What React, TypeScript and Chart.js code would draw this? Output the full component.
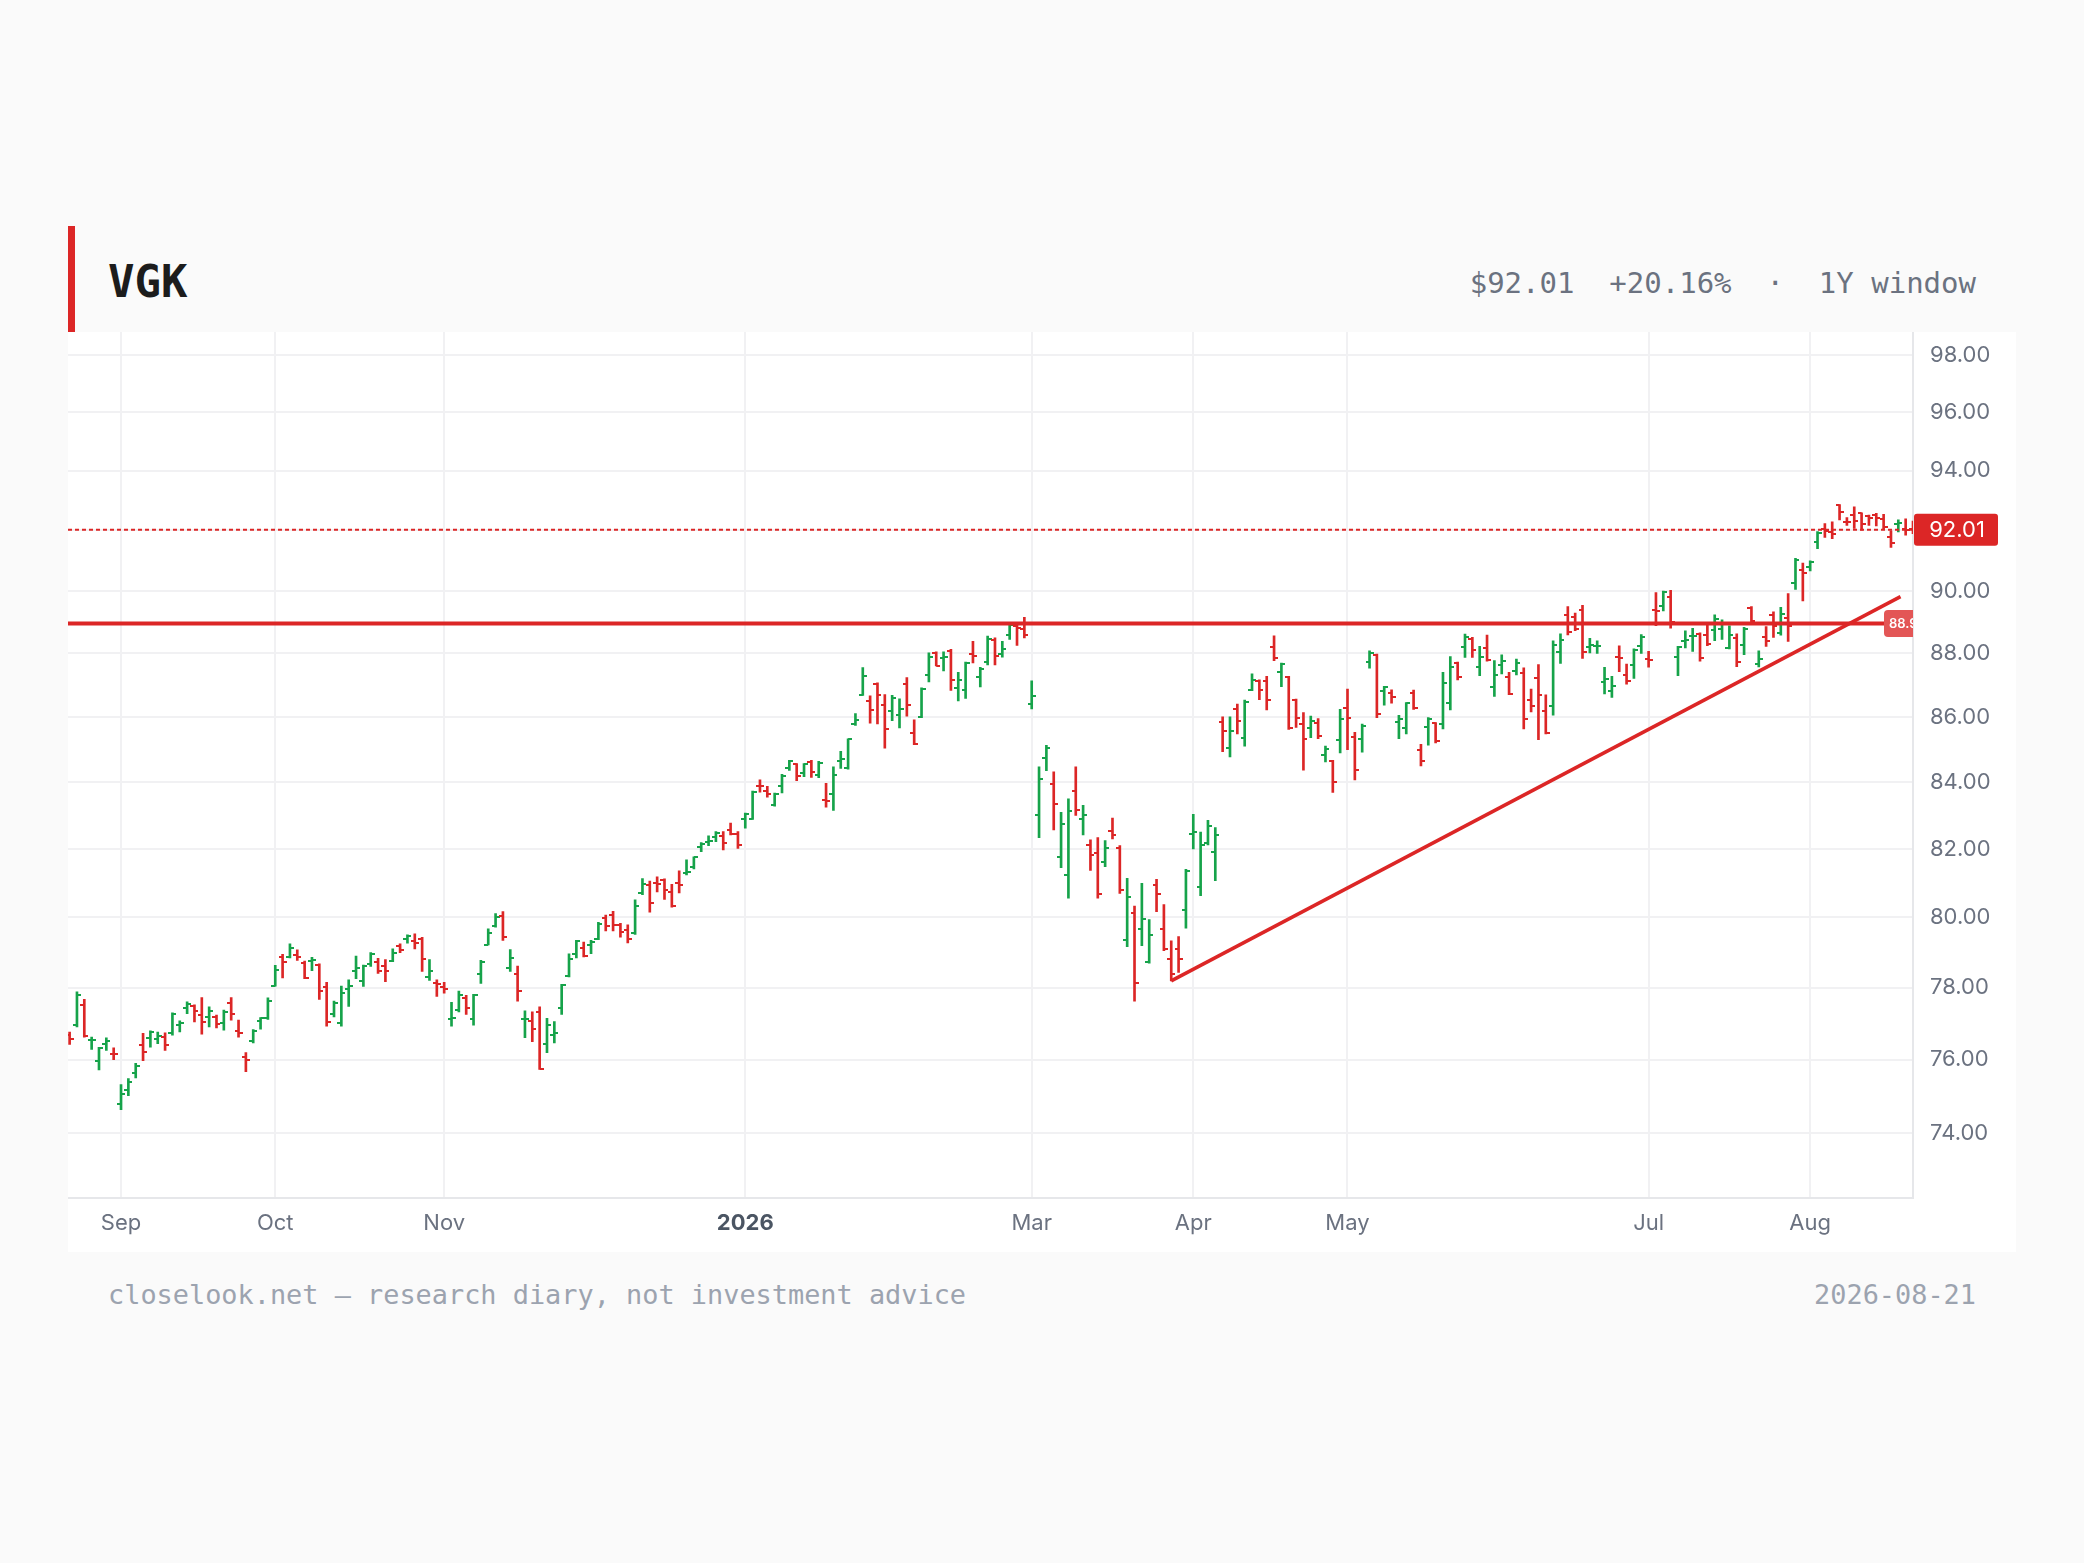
import { useEffect, useRef } from 'react'
import { Chart, registerables } from 'chart.js'

Chart.register(...registerables)

// VGK daily OHLC, one entry per trading session, 2025-08-21 .. 2026-08-21
const open = [
  76.67, 76.95, 77.51, 76.53, 75.97, 76.44, 76.16, 74.78, 75.16, 75.62,
  76.41, 76.60, 76.56, 76.62, 76.72, 76.95, 77.43, 77.49, 77.23, 77.18,
  77.18, 77.02, 77.57, 76.78, 76.07, 76.51, 77.06, 77.16, 78.05, 78.86,
  78.88, 78.91, 78.69, 78.75, 78.65, 78.03, 77.27, 77.02, 77.96, 78.48,
  78.20, 78.67, 78.72, 78.60, 78.75, 79.17, 79.37, 79.32, 79.38, 78.31,
  78.13, 78.03, 77.13, 77.36, 77.71, 77.11, 78.37, 79.22, 79.76, 80.05,
  78.54, 78.37, 77.11, 77.06, 77.32, 76.43, 76.69, 77.44, 78.32, 78.94,
  79.12, 79.22, 79.37, 79.97, 80.07, 79.79, 79.64, 79.56, 80.72, 80.94,
  81.01, 81.09, 80.74, 81.01, 81.29, 81.48, 82.07, 82.22, 82.35, 82.39,
  82.57, 82.44, 82.90, 82.90, 83.90, 83.75, 83.32, 83.90, 84.44, 84.54,
  84.27, 84.62, 84.22, 83.45, 83.63, 84.65, 84.42, 85.79, 86.70, 86.51,
  87.02, 86.37, 86.19, 86.06, 87.04, 85.50, 86.00, 87.33, 88.02, 87.85,
  88.09, 86.91, 86.83, 87.97, 87.26, 87.73, 88.43, 87.98, 88.57, 88.86,
  88.79, 86.42, 83.01, 84.75, 83.95, 81.75, 81.24, 83.74, 82.90, 82.12,
  81.87, 81.63, 82.54, 82.04, 79.35, 80.12, 79.67, 78.73, 80.95, 79.67,
  78.81, 79.10, 80.21, 82.45, 80.87, 82.19, 81.92, 85.85, 85.05, 86.26,
  85.35, 86.85, 87.14, 87.14, 88.21, 87.40, 87.24, 86.54, 85.78, 85.65,
  85.80, 84.84, 84.64, 85.28, 86.27, 85.38, 85.33, 87.74, 87.95, 86.80,
  86.75, 85.85, 85.66, 86.74, 84.97, 85.68, 85.80, 85.78, 86.45, 87.69,
  88.21, 88.46, 87.56, 88.16, 86.95, 87.63, 87.24, 87.45, 87.38, 86.54,
  87.21, 86.19, 86.35, 88.03, 89.23, 89.17, 89.40, 88.19, 88.22, 87.08,
  86.82, 87.87, 87.32, 87.64, 88.24, 87.82, 89.38, 89.52, 89.81, 87.89,
  88.38, 88.54, 88.62, 88.60, 88.74, 88.78, 88.16, 88.49, 88.28, 89.45,
  87.66, 88.51, 89.22, 88.65, 89.12, 90.25, 90.68, 90.77, 91.61, 92.03,
  91.95, 92.83, 92.28, 92.50, 92.56, 92.47, 92.52, 92.38, 91.76, 92.22,
  92.05, 92.03,
]
const high = [
  76.76, 77.88, 77.67, 76.62, 76.34, 76.60, 76.32, 75.32, 75.48, 75.90,
  76.72, 76.79, 76.76, 76.74, 77.29, 77.07, 77.60, 77.52, 77.72, 77.46,
  77.23, 77.37, 77.72, 77.09, 76.19, 76.83, 77.16, 77.71, 78.63, 78.94,
  79.24, 79.07, 78.75, 78.86, 78.67, 78.15, 77.62, 78.04, 78.22, 78.89,
  78.64, 78.99, 78.83, 78.79, 79.10, 79.24, 79.50, 79.53, 79.43, 78.79,
  78.22, 78.15, 77.59, 77.90, 77.78, 77.81, 78.77, 79.67, 80.11, 80.17,
  79.08, 78.61, 77.35, 77.32, 77.46, 77.14, 77.05, 78.09, 78.96, 79.34,
  79.29, 79.34, 79.86, 80.07, 80.18, 79.83, 79.79, 80.51, 81.13, 81.06,
  81.18, 81.12, 80.96, 81.36, 81.68, 81.77, 82.19, 82.39, 82.52, 82.52,
  82.77, 82.52, 83.07, 83.73, 84.07, 83.88, 83.67, 84.24, 84.67, 84.57,
  84.57, 84.67, 84.64, 83.97, 84.47, 84.94, 85.33, 86.11, 87.55, 86.66,
  87.07, 86.70, 86.68, 86.57, 87.23, 85.91, 86.91, 88.02, 88.05, 88.05,
  88.13, 87.40, 87.72, 88.38, 87.56, 88.55, 88.49, 88.38, 88.93, 88.91,
  89.15, 87.13, 84.47, 85.13, 84.32, 83.09, 83.50, 84.47, 83.30, 82.27,
  82.34, 82.25, 82.92, 82.10, 81.14, 80.33, 80.99, 79.94, 81.11, 80.37,
  79.33, 79.45, 81.40, 83.03, 82.50, 82.85, 82.64, 86.01, 86.01, 86.40,
  86.53, 87.35, 87.16, 87.27, 88.56, 87.69, 87.27, 86.56, 86.14, 86.03,
  85.95, 85.10, 84.67, 86.24, 86.87, 85.53, 85.78, 88.08, 87.98, 86.96,
  86.85, 86.05, 86.45, 86.84, 85.16, 85.98, 85.83, 87.40, 87.90, 87.72,
  88.61, 88.51, 88.22, 88.58, 87.77, 87.95, 87.40, 87.82, 87.54, 86.87,
  87.64, 86.69, 88.40, 88.62, 89.50, 89.29, 89.54, 88.48, 88.40, 87.56,
  87.27, 88.24, 87.66, 88.14, 88.60, 88.06, 89.95, 90.00, 90.02, 88.22,
  88.72, 88.80, 88.65, 88.94, 89.23, 89.07, 88.88, 88.62, 88.83, 89.50,
  88.08, 88.85, 89.33, 89.47, 89.92, 91.07, 90.91, 90.99, 91.95, 92.22,
  92.28, 92.85, 92.42, 92.78, 92.58, 92.50, 92.56, 92.53, 91.98, 92.34,
  92.38, 92.30,
]
const low = [
  76.42, 76.90, 76.62, 76.28, 75.72, 76.25, 76.00, 74.64, 75.02, 75.50,
  75.97, 76.34, 76.44, 76.25, 76.67, 76.76, 77.27, 77.04, 76.70, 76.90,
  76.87, 76.81, 77.09, 76.62, 75.67, 76.46, 76.84, 77.11, 78.04, 78.27,
  78.84, 78.77, 78.25, 78.48, 77.67, 76.92, 77.18, 76.92, 77.47, 78.25,
  78.03, 78.60, 78.40, 78.17, 78.73, 78.99, 79.26, 79.10, 78.46, 78.20,
  77.75, 77.84, 76.92, 77.32, 77.25, 76.95, 78.12, 79.21, 79.72, 79.34,
  78.46, 77.62, 76.60, 76.49, 75.73, 76.19, 76.46, 77.25, 78.30, 78.84,
  78.87, 78.96, 79.36, 79.61, 79.61, 79.43, 79.27, 79.51, 80.66, 80.15,
  80.74, 80.52, 80.30, 80.71, 81.24, 81.41, 81.92, 82.10, 82.22, 81.97,
  82.42, 82.02, 82.62, 82.88, 83.70, 83.55, 83.28, 83.68, 84.36, 84.05,
  84.17, 84.15, 84.14, 83.25, 83.15, 84.42, 84.40, 85.74, 86.67, 85.81,
  85.79, 85.04, 85.89, 85.66, 86.03, 85.15, 85.98, 87.10, 87.60, 87.44,
  86.83, 86.50, 86.58, 87.70, 86.94, 87.63, 87.63, 87.88, 88.44, 88.25,
  88.49, 86.25, 82.34, 84.35, 82.57, 81.45, 80.56, 83.00, 82.42, 81.37,
  80.56, 81.48, 82.30, 80.70, 79.16, 77.62, 79.19, 78.69, 80.17, 79.05,
  78.19, 78.43, 79.69, 82.00, 80.63, 82.12, 81.07, 84.93, 84.77, 85.48,
  85.10, 86.82, 86.54, 86.22, 87.77, 86.95, 85.62, 85.68, 84.37, 85.36,
  85.33, 84.62, 83.69, 84.89, 84.99, 84.07, 84.92, 87.53, 85.98, 86.37,
  86.43, 85.33, 85.48, 86.24, 84.50, 85.13, 85.20, 85.63, 86.22, 87.16,
  87.87, 87.87, 87.29, 87.75, 86.64, 87.35, 86.70, 87.32, 85.63, 86.16,
  85.30, 85.48, 86.06, 87.68, 88.59, 88.72, 87.84, 88.01, 88.00, 86.72,
  86.61, 87.42, 87.03, 87.21, 88.00, 87.56, 88.88, 89.36, 88.80, 87.29,
  88.17, 88.06, 87.75, 88.24, 88.40, 88.44, 88.14, 87.58, 87.96, 88.99,
  87.57, 88.22, 88.51, 88.58, 88.38, 90.05, 89.68, 90.66, 91.39, 91.76,
  91.72, 92.34, 92.16, 92.06, 92.00, 92.16, 92.14, 92.03, 91.43, 91.94,
  91.83, 91.88,
]
const close = [
  76.56, 77.79, 76.64, 76.55, 76.32, 76.50, 76.14, 75.06, 75.39, 75.83,
  76.22, 76.76, 76.65, 76.41, 77.26, 77.01, 77.55, 77.34, 77.04, 77.34,
  76.97, 77.32, 77.25, 76.74, 76.00, 76.79, 77.14, 77.62, 78.50, 78.72,
  79.13, 78.88, 78.27, 78.77, 77.91, 77.04, 77.57, 77.85, 78.04, 78.56,
  78.60, 78.94, 78.46, 78.48, 78.99, 79.07, 79.46, 79.26, 78.82, 78.46,
  78.10, 77.96, 77.15, 77.78, 77.43, 77.78, 78.72, 79.55, 80.02, 79.45,
  78.85, 77.91, 77.12, 76.84, 75.75, 76.95, 76.72, 78.07, 78.80, 79.32,
  78.90, 79.29, 79.80, 79.75, 79.79, 79.59, 79.39, 80.34, 80.97, 80.42,
  80.98, 80.79, 80.34, 80.94, 81.32, 81.75, 82.15, 82.24, 82.49, 82.17,
  82.44, 82.12, 83.03, 83.70, 83.88, 83.65, 83.63, 84.20, 84.65, 84.20,
  84.54, 84.32, 84.60, 83.43, 84.22, 84.72, 85.31, 85.90, 87.28, 86.22,
  86.70, 85.63, 86.60, 86.26, 86.37, 85.17, 86.89, 87.87, 87.61, 87.88,
  87.15, 87.15, 87.70, 87.93, 87.50, 88.45, 87.92, 88.14, 88.89, 88.81,
  88.57, 86.67, 84.10, 85.05, 83.35, 82.75, 83.14, 83.17, 83.02, 81.82,
  80.68, 82.02, 82.42, 80.80, 80.58, 78.13, 79.95, 79.50, 80.68, 79.10,
  78.38, 78.81, 81.34, 82.51, 82.12, 82.67, 82.42, 85.58, 85.58, 85.88,
  86.47, 87.17, 86.85, 86.54, 87.85, 87.66, 85.65, 85.96, 85.31, 85.88,
  85.40, 85.00, 84.02, 85.93, 85.96, 84.37, 85.71, 88.01, 86.08, 86.93,
  86.63, 85.95, 86.43, 86.27, 84.64, 85.95, 85.25, 87.05, 87.58, 87.26,
  88.53, 88.12, 87.87, 87.79, 87.33, 87.77, 86.72, 87.69, 85.95, 86.33,
  86.69, 85.50, 88.28, 88.44, 88.67, 88.78, 88.03, 88.28, 88.24, 87.19,
  86.96, 87.85, 87.14, 88.12, 88.53, 87.79, 89.36, 89.97, 89.01, 88.19,
  88.43, 88.56, 87.85, 88.30, 89.10, 88.94, 88.60, 87.71, 88.78, 89.04,
  87.82, 88.40, 88.88, 89.26, 88.88, 91.01, 90.60, 90.96, 91.92, 91.98,
  91.87, 92.60, 92.26, 92.30, 92.22, 92.42, 92.42, 92.09, 91.57, 92.23,
  92.01, 92.01,
]

// first session of each labelled month (session index)
const monthTickIndex = [7, 28, 51, 92, 131, 153, 174, 215, 237]
const monthTickLabel = ['Sep', 'Oct', 'Nov', '2026', 'Mar', 'Apr', 'May', 'Jul', 'Aug']
const priceTicks = [74, 76, 78, 80, 82, 84, 86, 88, 90, 92, 94, 96, 98]

const resistance = 88.95
const trendStart = { x: 150, y: 78.19 }
const trendEnd = { x: 249.3, y: 89.82 }
const lastPrice = 92.01

const UP = '#16a34a'
const DOWN = '#dc2626'
const GRID = '#f1f1f3'
const MONO = '"DejaVu Sans Mono", "Liberation Mono", monospace'

function tickImage(color: string, side: 'left' | 'right') {
  const c = document.createElement('canvas')
  c.width = 8
  c.height = 2
  const g = c.getContext('2d')!
  g.fillStyle = color
  g.fillRect(side === 'left' ? 0 : 4, 0, 4, 2)
  return c
}

// chart.js reserves room for half a label at the axis ends; this chart has none
function noPadding(s: any) {
  s.paddingTop = 0
  s.paddingBottom = 0
  s.paddingLeft = 0
  s.paddingRight = 0
}

const priceTags = {
  id: 'priceTags',
  afterDraw(chart: any) {
    const { ctx, chartArea: a, scales } = chart
    const y = scales.y
    ctx.save()
    // resistance tag, sits inside the plot and is cut by the price axis
    const ry = y.getPixelForValue(resistance)
    ctx.beginPath()
    ctx.rect(a.left, a.top, a.right - a.left, a.bottom - a.top)
    ctx.clip()
    ctx.fillStyle = '#e35656'
    ctx.beginPath()
    ctx.roundRect(a.right - 29, ry - 13.5, 66, 27, 4)
    ctx.fill()
    ctx.fillStyle = '#fff'
    ctx.font = '600 13px Inter, sans-serif'
    ctx.textBaseline = 'middle'
    ctx.textAlign = 'left'
    ctx.fillText(resistance.toFixed(2), a.right - 24, ry + 1)
    ctx.restore()

    // last price tag on the axis
    const py = y.getPixelForValue(lastPrice)
    ctx.save()
    ctx.fillStyle = DOWN
    ctx.beginPath()
    ctx.roundRect(a.right + 1, py - 16, 84, 32, 3)
    ctx.fill()
    ctx.fillStyle = '#fff'
    ctx.font = '22px Inter, sans-serif'
    ctx.textAlign = 'center'
    ctx.textBaseline = 'middle'
    ctx.fillText(lastPrice.toFixed(2), a.right + 44, py + 1)
    ctx.restore()
  },
}

function OhlcChart() {
  const canvasRef = useRef<HTMLCanvasElement>(null)
  const chartRef = useRef<Chart | null>(null)

  useEffect(() => {
    if (!canvasRef.current) return
    const openUp = tickImage(UP, 'left')
    const openDown = tickImage(DOWN, 'left')
    const closeUp = tickImage(UP, 'right')
    const closeDown = tickImage(DOWN, 'right')
    const rising = close.map((c, i) => c >= open[i])
    const last = open.length - 1

    if (chartRef.current) chartRef.current.destroy()

    chartRef.current = new Chart(canvasRef.current, {
      type: 'bar',
      data: {
        datasets: [
          {
            type: 'line',
            data: [{ x: -0.22, y: resistance }, { x: last, y: resistance }],
            borderColor: DOWN,
            borderWidth: 4,
            pointRadius: 0,
            order: 0,
          } as any,
          {
            type: 'line',
            data: [trendStart, trendEnd],
            borderColor: DOWN,
            borderWidth: 3.5,
            pointRadius: 0,
            order: 0,
          } as any,
          {
            type: 'line',
            data: [{ x: -0.22, y: lastPrice }, { x: last, y: lastPrice }],
            borderColor: DOWN,
            borderWidth: 2,
            borderDash: [4, 3],
            pointRadius: 0,
            order: 1,
          } as any,
          {
            type: 'scatter',
            data: open.map((o, i) => ({ x: i, y: o })),
            pointStyle: rising.map(r => (r ? openUp : openDown)),
            pointRadius: 3,
            order: 2,
          } as any,
          {
            type: 'scatter',
            data: close.map((c, i) => ({ x: i, y: c })),
            pointStyle: rising.map(r => (r ? closeUp : closeDown)),
            pointRadius: 3,
            order: 2,
          } as any,
          {
            type: 'bar',
            data: high.map((h, i) => ({ x: i, y: [low[i], h] })),
            backgroundColor: rising.map(r => (r ? UP : DOWN)),
            barThickness: 2,
            grouped: false,
            order: 3,
          } as any,
        ],
      },
      options: {
        responsive: true,
        maintainAspectRatio: false,
        animation: false,
        events: [],
        layout: { padding: 0, autoPadding: false },
        plugins: { legend: { display: false }, tooltip: { enabled: false } },
        scales: {
          x: {
            type: 'linear',
            min: -0.22,
            max: last,
            offset: false,
            afterBuildTicks: (s: any) => { s.ticks = monthTickIndex.map(v => ({ value: v })) },
            afterFit: (s: any) => { s.height = 54.5; noPadding(s) },
            grid: { color: GRID, lineWidth: 2, drawTicks: false, offset: false },
            border: { color: '#e6e7ea', width: 2 },
            ticks: {
              autoSkip: false,
              maxRotation: 0,
              padding: 13,
              callback: (v: any) => monthTickLabel[monthTickIndex.indexOf(Number(v))] ?? '',
              color: (c: any) => (c.tick && c.tick.label === '2026' ? '#4b5563' : '#6b7280'),
              font: (c: any) => ({
                family: 'Inter, sans-serif',
                size: 22,
                weight: c.tick && c.tick.label === '2026' ? 'bold' : 'normal',
              }),
            },
          },
          y: {
            type: 'logarithmic',
            position: 'right',
            min: 72.31,
            max: 98.82,
            afterBuildTicks: (s: any) => { s.ticks = priceTicks.map(v => ({ value: v })) },
            afterFit: (s: any) => { s.width = 103; noPadding(s) },
            grid: { color: GRID, lineWidth: 2, drawTicks: false },
            border: { color: '#e6e7ea', width: 2 },
            ticks: {
              padding: 17,
              color: '#6b7280',
              font: { family: 'Inter, sans-serif', size: 22 },
              callback: (v: any) => Number(v).toFixed(2),
            },
          },
        },
      } as any,
      plugins: [priceTags],
    })
    return () => { chartRef.current?.destroy() }
  }, [])

  return <canvas ref={canvasRef} />
}

export default function App() {
  return (
    <div style={{ position: 'fixed', inset: 0, background: '#fafafa', overflow: 'hidden' }}>
      <div style={{ position: 'absolute', left: 68, top: 226, width: 7, height: 106, background: DOWN }} />
      <div
        style={{
          position: 'absolute', left: 108, top: 260, fontFamily: MONO, fontSize: 44,
          lineHeight: '44px', fontWeight: 700, color: '#1c1c1c',
        }}
      >
        VGK
      </div>
      <div
        style={{
          position: 'absolute', left: 1000, width: 976, top: 269, textAlign: 'right',
          fontFamily: MONO, fontSize: 29, lineHeight: '29px', color: '#6b7280', whiteSpace: 'pre',
        }}
      >
        {'$92.01  +20.16%  ·  1Y window'}
      </div>
      <div style={{ position: 'absolute', left: 68, top: 332, width: 1948, height: 920, background: '#fff' }}>
        <OhlcChart />
      </div>
      <div
        style={{
          position: 'absolute', left: 108, top: 1281, fontFamily: MONO, fontSize: 26.9,
          lineHeight: '27px', color: '#9ca3af', whiteSpace: 'pre',
        }}
      >
        closelook.net — research diary, not investment advice
      </div>
      <div
        style={{
          position: 'absolute', left: 1500, width: 476, top: 1281, textAlign: 'right',
          fontFamily: MONO, fontSize: 26.9, lineHeight: '27px', color: '#9ca3af',
        }}
      >
        2026-08-21
      </div>
    </div>
  )
}
